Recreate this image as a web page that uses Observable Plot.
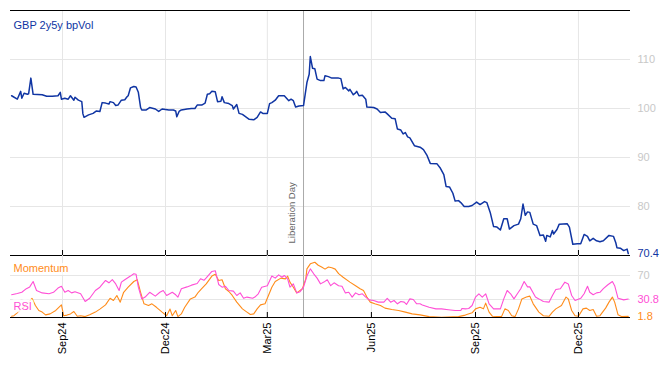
<!DOCTYPE html>
<html><head><meta charset="utf-8">
<script src="https://cdn.jsdelivr.net/npm/d3@7"></script>
<script src="https://cdn.jsdelivr.net/npm/@observablehq/plot@0.6"></script>
<style>
body{margin:0;background:#fff;}
#chart{position:relative;width:668px;height:366px;font-family:"Liberation Sans",Arial,sans-serif;}
#chart svg{position:absolute;left:0;}
</style></head><body><div id="chart"></div>
<script>
// day offsets counted from 1 Sep 2024
const seriesName = "GBP 2y5y bpVol";
const volSeries = [[-45,102.6],[-40,101.9],[-37,103.5],[-36,102.1],[-34,103.1],[-31,102.9],[-30,103.0],[-28,106.2],[-26,102.9],[-18,102.8],[-14,102.5],[-9,102.5],[-4,102.6],[-2,103.3],[-1,101.9],[2,102.1],[5,101.9],[7,102.6],[10,101.7],[11,102.3],[14,101.7],[17,101.4],[18,98.9],[19,98.2],[23,98.7],[27,99.0],[30,99.5],[33,99.4],[35,101.2],[38,101.1],[41,100.9],[42,101.4],[45,101.2],[47,100.6],[49,100.7],[52,101.7],[55,101.8],[57,102.4],[58,102.6],[60,104.2],[63,104.5],[65,104.4],[67,103.3],[69,100.2],[70,99.7],[74,99.7],[77,100.2],[82,99.9],[85,99.4],[88,99.9],[94,99.7],[98,99.7],[100,99.5],[101,98.3],[103,99.4],[105,99.7],[110,99.9],[114,100.0],[117,100.0],[119,100.7],[123,100.7],[126,101.1],[128,102.9],[130,103.0],[132,103.5],[135,103.4],[137,101.4],[140,101.5],[141,102.4],[143,101.2],[147,101.0],[150,100.6],[151,99.9],[154,100.8],[156,99.0],[159,98.8],[162,98.3],[165,97.8],[169,97.7],[172,98.2],[175,99.3],[177,99.0],[181,99.0],[183,101.0],[185,101.2],[188,101.7],[191,102.6],[196,102.6],[200,101.6],[202,101.9],[204,101.6],[206,100.3],[209,100.5],[213,100.6],[216,105.3],[218,107.0],[219,110.6],[221,108.2],[223,108.1],[225,106.0],[228,105.7],[231,105.7],[232,106.7],[235,106.5],[238,106.2],[244,106.2],[246,106.1],[248,104.0],[250,104.3],[253,103.6],[254,103.9],[257,102.8],[259,103.2],[260,103.5],[262,102.6],[265,102.7],[268,101.9],[269,100.3],[275,100.2],[278,99.9],[281,99.2],[285,99.3],[287,98.9],[291,98.0],[294,97.9],[296,95.8],[299,95.6],[301,94.8],[303,95.1],[305,94.2],[307,94.0],[311,92.4],[316,92.1],[319,91.6],[322,90.5],[325,88.8],[331,88.7],[334,87.8],[337,86.5],[339,84.1],[342,84.0],[345,82.7],[347,81.1],[350,81.2],[352,80.8],[355,80.0],[359,80.0],[362,80.2],[366,80.9],[369,80.4],[373,81.0],[375,80.8],[378,78.8],[381,75.9],[384,75.8],[387,75.2],[390,77.5],[393,77.5],[395,75.4],[399,76.1],[403,76.4],[405,77.5],[407,80.5],[409,78.2],[411,78.9],[413,78.8],[416,76.4],[419,76.1],[422,74.1],[425,74.2],[427,72.9],[428,74.1],[431,73.8],[433,75.1],[434,74.4],[437,75.3],[439,76.4],[446,76.5],[448,75.8],[451,72.3],[455,72.4],[458,72.4],[461,74.3],[464,73.9],[466,73.0],[469,73.5],[472,73.0],[475,72.8],[478,73.0],[483,74.1],[487,73.9],[489,72.6],[490,71.6],[493,71.5],[496,71.0],[499,71.3],[500,70.4]];
const rsiSeries = [[-45,38],[-40,40],[-36,42],[-32,48],[-29,51],[-26,60],[-23,45],[-18,41],[-12,39.5],[-8,42],[-4,49],[-1,52],[2,42],[5,45],[8,41],[11,43],[16,39.5],[20,26.7],[24,32],[29,45],[33,50.5],[38,61.7],[41,57.8],[44,63],[47,56],[50,45],[52,58.9],[55,63],[60,69],[63,72.8],[65,72],[67,50.5],[70,31],[73,34],[77,42],[82,35.6],[86,42],[89,45],[92,36.7],[97,42],[100,37.8],[102,34],[105,48],[110,51],[114,53.9],[119,56.7],[122,64.5],[125,62],[127,66],[132,76.7],[135,78],[138,55],[141,50.5],[144,52],[147,45],[151,44],[154,36.7],[157,41],[160,32],[163,34],[168,32],[170,34],[173,39.5],[176,50.5],[181,53],[185,69],[188,65.6],[191,71],[194,67],[196,70],[199,64],[201,50.5],[204,56],[207,41],[210,43],[213,50.5],[216,69],[219,81],[222,72.8],[225,65.6],[228,56],[231,59],[234,62.8],[237,53],[240,57.8],[244,53],[247,52],[250,41],[253,42],[256,34],[259,41],[262,37.8],[265,39.5],[268,34],[271,29.4],[275,28.3],[279,25.6],[284,25.6],[287,32],[290,25.6],[293,28.3],[296,22.8],[299,26.7],[302,25.6],[304,21.7],[307,31],[310,30],[313,22.8],[316,22.8],[318,21],[324,17],[330,14.4],[335,14.4],[341,13],[347,11.7],[352,11.7],[353,15],[356,14.4],[359,15],[362,20],[365,34],[368,39.5],[371,34],[374,39.5],[377,22.8],[381,14.4],[387,14.4],[390,31],[393,45],[396,39.5],[399,31],[402,39.5],[405,48],[408,60],[411,51],[413,51],[418,34],[421,31],[425,26.7],[430,25.6],[433,36.7],[436,46.7],[440,48],[444,58.9],[447,56],[450,36.7],[453,28.3],[458,32],[461,39.5],[464,52],[466,42],[469,37.8],[472,41],[475,42],[478,48],[482,54.5],[486,60],[488,53],[491,32],[496,29.4],[500,30.8]];
const momSeries = [[-45,2],[-43,3],[-36,14],[-27,32],[-24,20],[-21,11.7],[-18,9],[-15,4.4],[-11,6],[-6,11.7],[-1,21],[1,3],[4,4],[7,6],[10,10],[13,2],[16,3],[20,1.5],[24,4.4],[29,9],[33,14],[38,21],[42,32],[45,28.3],[48,36.7],[51,25.6],[54,42],[58,50.5],[63,60],[66,63],[69,42],[72,22.8],[76,20],[79,22.8],[83,17],[88,9],[92,3],[95,14],[97,3],[100,11.7],[102,1.5],[105,6],[108,17],[113,31],[117,34],[120,42],[123,48],[127,56],[132,69],[135,72],[138,61.7],[141,63],[144,47.8],[147,43.3],[150,36.7],[154,25.6],[159,14.4],[163,9],[166,5],[169,6],[172,14.4],[175,21],[179,22.8],[182,36.7],[185,50.5],[188,60],[193,65.6],[197,64.4],[199,69],[201,59],[204,50.5],[207,41],[212,48],[215,64.4],[216,81],[219,89.4],[223,92],[226,87],[229,84],[232,80.6],[235,84],[238,82.8],[241,80.6],[244,73],[248,67],[254,59],[259,53],[263,48],[266,45],[269,34],[272,25.6],[276,22.8],[281,20],[285,15.6],[291,13.3],[297,11.7],[303,9],[309,6],[316,4.4],[324,1.5],[335,0.5],[350,1.5],[356,4],[362,7.8],[365,14.4],[369,17],[372,14.4],[374,24],[377,9],[380,2],[388,1.5],[391,14.4],[394,11.7],[397,3],[400,1.5],[403,14.4],[406,31],[410,34],[413,35.6],[416,22.8],[421,9],[425,3],[430,2],[433,9],[436,14.4],[441,20],[445,34],[447,31],[450,11.7],[453,3],[456,2],[460,14.4],[463,15.6],[466,11.7],[469,13.3],[472,2],[475,3],[480,15.6],[483,25.6],[486,34],[488,25.6],[491,4.4],[494,1.5],[500,1.8]];
const tickLabels = ["Sep24","Dec24","Mar25","Jun25","Sep25","Dec25"];
const tickDates = ["2024-09-01","2024-12-01","2025-03-01","2025-06-01","2025-09-01","2025-12-01"];
const eventDate = "2025-04-02";
const eventLabel = "Liberation Day";
const volTicks = [80, 90, 100, 110];
const oscGrid = [30, 70];
const oscTicks = [70];
const xDomain = ["2024-07-17", "2026-01-16"];

const blue = "#1035a3", orange = "#ff8c1a", pink = "#ff4fd6", grid = "#e6e6e6", labelGrey = "#c8c8c8";
const toDate = d => new Date(Date.UTC(2024, 8, 1 + d));
const vol = volSeries.map(([d, v]) => ({date: toDate(d), value: v}));
const rsi = rsiSeries.map(([d, v]) => ({date: toDate(d), value: v}));
const mom = momSeries.map(([d, v]) => ({date: toDate(d), value: v}));
const ticks = tickDates.map(s => new Date(s));
const ev = new Date(eventDate);
const xs = {type: "utc", domain: xDomain.map(s => new Date(s))};
const font = "'Liberation Sans', Arial, sans-serif";
const style = {fontFamily: font, fontSize: "11px", background: "transparent", overflow: "visible"};

const topPlot = Plot.plot({
  width: 668, height: 256, marginTop: 10, marginBottom: 1, marginLeft: 10, marginRight: 38,
  style,
  x: {...xs, axis: null},
  y: {domain: [70, 120], axis: null},
  marks: [
    Plot.ruleY(volTicks, {stroke: grid}),
    Plot.ruleX(ticks, {stroke: grid}),
    Plot.ruleX([ev], {stroke: "#aaaaaa"}),
    Plot.axisY(volTicks, {anchor: "right", tickSize: 0, tickPadding: 7, color: labelGrey, label: null}),
    Plot.line(vol, {x: "date", y: "value", stroke: blue, strokeWidth: 1.5}),
    Plot.ruleY([120], {stroke: "#000"}),
    Plot.ruleY([70], {stroke: "#000"}),
    Plot.ruleX(ticks, {stroke: "#000", insetTop: 240}),
    Plot.text([eventLabel], {x: ev, frameAnchor: "bottom", rotate: -90, textAnchor: "start", lineAnchor: "middle", dx: -12, dy: -12, fill: "#666", fontSize: 9.5}),
    Plot.text([seriesName], {frameAnchor: "top-left", dx: 3, dy: 15, textAnchor: "start", lineAnchor: "middle", fill: blue, fontSize: 11}),
    Plot.text([vol[vol.length - 1]], {y: "value", frameAnchor: "right", dx: 7, textAnchor: "start", text: d => d.value.toFixed(1), fill: blue, fontSize: 11})
  ]
});

const botPlot = Plot.plot({
  width: 668, height: 111, marginTop: 0, marginBottom: 49, marginLeft: 10, marginRight: 38,
  style,
  x: {...xs, axis: null},
  y: {domain: [0, 103.3], axis: null},
  marks: [
    Plot.ruleY(oscGrid, {stroke: grid}),
    Plot.ruleX(ticks, {stroke: grid}),
    Plot.ruleX([ev], {stroke: "#aaaaaa"}),
    Plot.axisY(oscTicks, {anchor: "right", tickSize: 0, tickPadding: 7, color: labelGrey, label: null}),
    Plot.line(mom, {x: "date", y: "value", stroke: orange, strokeWidth: 1.1}),
    Plot.line(rsi, {x: "date", y: "value", stroke: pink, strokeWidth: 1.1}),
    Plot.ruleY([0], {stroke: "#000"}),
    Plot.ruleX(ticks, {stroke: "#000", insetTop: 57}),
    Plot.axisX(ticks, {tickSize: 0, tickPadding: 5, tickRotate: -90, tickFormat: (d, i) => tickLabels[i], color: "#000", label: null, fontSize: 11}),
    Plot.text(["Momentum"], {frameAnchor: "top-left", dx: 3, dy: 13, textAnchor: "start", lineAnchor: "middle", fill: orange, stroke: "white", strokeOpacity: 0.8, strokeWidth: 6, fontSize: 11}),
    Plot.text(["RSI"], {frameAnchor: "top-left", dx: 3, dy: 51, textAnchor: "start", lineAnchor: "middle", fill: pink, stroke: "white", strokeOpacity: 0.8, strokeWidth: 6, fontSize: 11}),
    Plot.text([rsi[rsi.length - 1]], {y: "value", frameAnchor: "right", dx: 7, textAnchor: "start", text: d => d.value.toFixed(1), fill: pink, fontSize: 11}),
    Plot.text([mom[mom.length - 1]], {y: "value", frameAnchor: "right", dx: 7, textAnchor: "start", text: d => d.value.toFixed(1), fill: orange, fontSize: 11})
  ]
});

const root = document.getElementById("chart");
topPlot.style.top = "0px";
botPlot.style.top = "255px";
root.appendChild(topPlot);
root.appendChild(botPlot);
</script></body></html>
